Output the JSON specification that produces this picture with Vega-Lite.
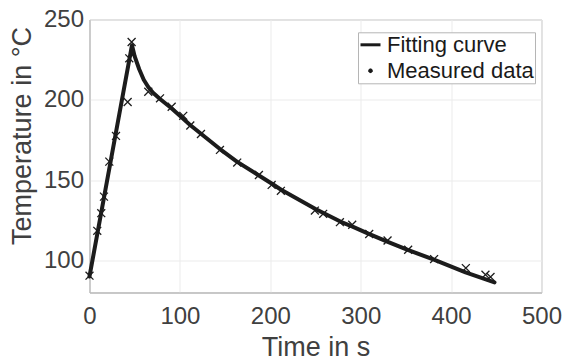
{
  "$schema": "https://vega.github.io/schema/vega-lite/v6.json",
  "width": 452,
  "height": 273,
  "autosize": {"type": "none"},
  "padding": {"left": 89.5, "top": 19.5, "right": 22.5, "bottom": 71.5},
  "config": {
    "font": "Liberation Sans",
    "view": {"stroke": "#b5b5b5", "strokeWidth": 1},
    "axis": {
      "labelFont": "Liberation Sans",
      "titleFont": "Liberation Sans",
      "labelFontSize": 24,
      "titleFontSize": 27,
      "labelColor": "#404040",
      "titleColor": "#404040",
      "titleFontWeight": "normal",
      "domainColor": "#b5b5b5",
      "gridColor": "#ebebeb",
      "gridWidth": 1,
      "ticks": false,
      "tickSize": 0,
      "labelFlush": false,
      "labelOverlap": false
    }
  },
  "datasets": {
    "curve": [
      {"t": 0, "T": 90}, {"t": 47, "T": 234}, {"t": 50, "T": 227}, {"t": 55, "T": 219},
      {"t": 60, "T": 212.5}, {"t": 65, "T": 208}, {"t": 70, "T": 204.5}, {"t": 78, "T": 200.5},
      {"t": 90, "T": 195}, {"t": 100, "T": 190}, {"t": 111, "T": 184.5}, {"t": 123, "T": 179},
      {"t": 144, "T": 169.5}, {"t": 163, "T": 161.5}, {"t": 187, "T": 153}, {"t": 201, "T": 148},
      {"t": 212, "T": 144}, {"t": 250, "T": 132}, {"t": 278, "T": 124}, {"t": 291, "T": 121},
      {"t": 309, "T": 116.5}, {"t": 330, "T": 111.5}, {"t": 352, "T": 106.5}, {"t": 381, "T": 100.5},
      {"t": 416, "T": 92.5}, {"t": 448, "T": 86.3}
    ],
    "measured": [
      {"t": 0, "T": 90.5, "series": "Measured data"},
      {"t": 8.6, "T": 118.4, "series": "Measured data"},
      {"t": 13, "T": 129.4, "series": "Measured data"},
      {"t": 16, "T": 139.7, "series": "Measured data"},
      {"t": 21.9, "T": 161.5, "series": "Measured data"},
      {"t": 29.3, "T": 177.5, "series": "Measured data"},
      {"t": 42.2, "T": 198.6, "series": "Measured data"},
      {"t": 44, "T": 225.8, "series": "Measured data"},
      {"t": 46.6, "T": 236, "series": "Measured data"},
      {"t": 65, "T": 205, "series": "Measured data"},
      {"t": 78, "T": 200.9, "series": "Measured data"},
      {"t": 90.9, "T": 195.7, "series": "Measured data"},
      {"t": 103.7, "T": 190, "series": "Measured data"},
      {"t": 111.5, "T": 184, "series": "Measured data"},
      {"t": 123.3, "T": 178.7, "series": "Measured data"},
      {"t": 144.3, "T": 168.8, "series": "Measured data"},
      {"t": 163.4, "T": 160.9, "series": "Measured data"},
      {"t": 187.4, "T": 153.2, "series": "Measured data"},
      {"t": 201.5, "T": 147, "series": "Measured data"},
      {"t": 211.7, "T": 143.3, "series": "Measured data"},
      {"t": 249.3, "T": 131, "series": "Measured data"},
      {"t": 258.5, "T": 129, "series": "Measured data"},
      {"t": 277, "T": 123.8, "series": "Measured data"},
      {"t": 290.6, "T": 122.2, "series": "Measured data"},
      {"t": 309.4, "T": 116.4, "series": "Measured data"},
      {"t": 329.7, "T": 112.4, "series": "Measured data"},
      {"t": 352.5, "T": 106.6, "series": "Measured data"},
      {"t": 381.2, "T": 100.8, "series": "Measured data"},
      {"t": 416.3, "T": 95.2, "series": "Measured data"},
      {"t": 438, "T": 91.1, "series": "Measured data"},
      {"t": 443.6, "T": 89.7, "series": "Measured data"}
    ]
  },
  "encoding": {
    "x": {
      "field": "t", "type": "quantitative",
      "scale": {"domain": [0, 500], "nice": false, "zero": false},
      "axis": {"values": [0, 100, 200, 300, 400, 500], "title": "Time in s", "labelPadding": 12, "titlePadding": 6, "grid": true}
    },
    "y": {
      "field": "T", "type": "quantitative",
      "scale": {"domain": [80, 250], "nice": false, "zero": false},
      "axis": {"values": [100, 150, 200, 250], "title": "Temperature in °C", "labelPadding": 6, "titlePadding": 7, "titleY": 116, "grid": true}
    }
  },
  "layer": [
    {
      "data": {"name": "curve"},
      "mark": {"type": "line", "color": "#1c1c1c", "strokeWidth": 4, "strokeJoin": "round", "strokeCap": "round"}
    },
    {
      "data": {"name": "measured"},
      "mark": {"type": "point", "filled": false, "stroke": "#1c1c1c", "strokeWidth": 1.3, "size": 2800, "opacity": 1},
      "encoding": {
        "shape": {
          "field": "series", "type": "nominal",
          "scale": {"domain": ["Fitting curve", "Measured data"], "range": ["stroke", "M-0.15,-0.15L0.15,0.15M-0.15,0.15L0.15,-0.15"]},
          "legend": {
            "title": null,
            "orient": "none",
            "legendX": 268.5,
            "legendY": 12.8,
            "direction": "vertical",
            "padding": 1,
            "strokeColor": "#b5b5b5",
            "fillColor": "white",
            "labelFont": "Liberation Sans",
            "labelFontSize": 22,
            "labelColor": "#1a1a1a",
            "labelOffset": 5,
            "rowPadding": 3,
            "symbolSize": 400,
            "symbolStrokeColor": "#1a1a1a",
            "symbolStrokeWidth": 3,
            "encode": {
              "symbols": {
                "update": {
                  "strokeWidth": {"signal": "datum.value === 'Fitting curve' ? 3.5 : 2"}
                }
              }
            }
          }
        }
      }
    }
  ]
}
